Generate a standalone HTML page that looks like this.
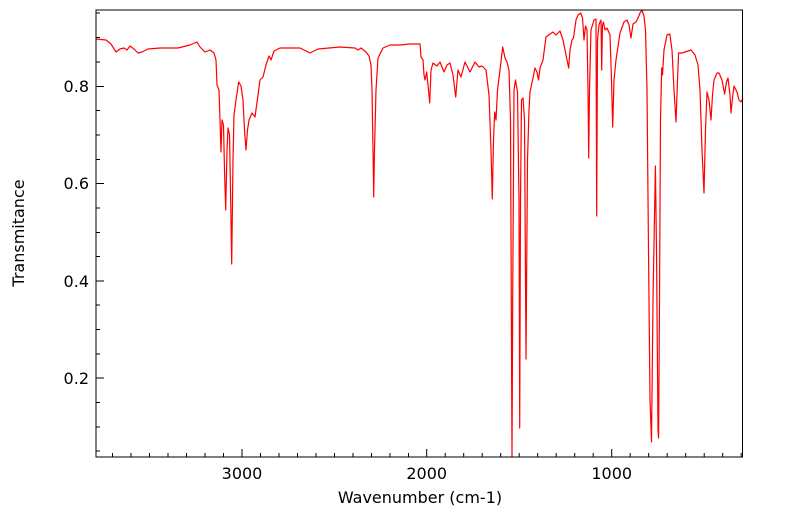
<!DOCTYPE html>
<html><head><meta charset="utf-8"><style>
html,body{margin:0;padding:0;background:#fff;}
svg{display:block;font-family:"DejaVu Sans","Liberation Sans",sans-serif;}
</style></head><body>
<svg width="799" height="516" viewBox="0 0 799 516" xmlns="http://www.w3.org/2000/svg">
<rect width="799" height="516" fill="#fff"/>
<g stroke="#000" stroke-width="1">
<!-- y major ticks -->
<path d="M96 86.5h8M96 183.5h8M96 281h8M96 378h8"/>
<!-- y minor -->
<path d="M96 13h4M96 37.5h4M96 62h4M96 110.5h4M96 135h4M96 159.5h4M96 208h4M96 232.5h4M96 256.5h4M96 305h4M96 329.5h4M96 354h4M96 402.5h4M96 427h4M96 451h4"/>
<!-- x major -->
<path d="M242 457v-8M426.7 457v-8M611.7 457v-8"/>
<!-- x minor -->
<path d="M112.5 457v-4M131 457v-4M149.5 457v-4M168 457v-4M186.5 457v-4M205 457v-4M223.5 457v-4M260.5 457v-4M279 457v-4M297.5 457v-4M316 457v-4M334.5 457v-4M353 457v-4M371.5 457v-4M390 457v-4M408.5 457v-4M445.2 457v-4M463.7 457v-4M482.2 457v-4M500.7 457v-4M519.2 457v-4M537.7 457v-4M556.2 457v-4M574.7 457v-4M593.2 457v-4M630.2 457v-4M648.7 457v-4M667.2 457v-4M685.7 457v-4M704.2 457v-4M722.7 457v-4M741.2 457v-4"/>
</g>
<polyline fill="none" stroke="#ff0000" stroke-width="1.2" stroke-linejoin="round" points="
96,39 106,40 111,44 116,52 120,49 124,48 127,50 130,46 134,49 138,53 142,52 148,49 160,48 178,48 190,45 197,42 200,47 205,52 210,50 214,53 216,60 217,85 219,90 220,120 221,152 222,120 223.5,125 224.5,170 225.7,210 227,150 228,128 229.5,135 230.5,190 231.7,264 233,160 234,115 236,100 238.7,82 241,86 243,100 244.5,130 246,150 247.5,130 249,120 252,113 255,117 258,95 260,80 263,77 266,65 269,56 271,60 274,51 280,48 300,48 310,53 318,49 340,47 355,48 358,50 361,48 366,52 369,56 371,65 372,90 373,150 373.7,197 374.5,150 376,90 378,58 383,48 390,45 400,45 410,44 420,44 421,57 423,60 424,75 425,80 426.7,72 428,85 429.7,103 431,70 433,63 437,66 440,62 444,72 447,65 450,63 453,75 455.7,97 458,70 461,77 465,62 470,72 475,62 479,67 482,66 486,70 489,95 491,150 492.3,199 493.5,140 494.7,112 496,120 497.5,90 500,70 502.7,47 505,58 507,62 509,70 510.5,120 511.3,300 512,457 512.7,300 514,90 515.5,80 517.5,92 519,200 519.7,428 520.5,200 521.5,100 523,98 524.5,120 526,359 527.5,160 529,110 530,92 533,78 535,68 537,72 538.5,80 540,68 543,60 546,37 550,34 553,32 556,35 560,31 563,40 566,55 568.7,68 570,50 572,40 573.5,38 576,20 578,15 580.7,13 582.5,18 584,40 585.5,26 587,30 588,90 588.7,158 589.5,90 591,30 594,20 596,19 596.7,216 597.5,40 599,25 600,22 601,20 601.7,70 602.5,25 603.5,22 605,30 607,28 610,35 611.5,80 612.7,127 614,80 616,60 620,33 624,22 627,20 629,25 631,38 633,24 636,22 638,18 640,13 642,10 644,16 645.5,30 647,90 648.5,250 650,400 651.5,442 653,300 655.4,166 656.5,250 658,430 658.6,438 659.5,300 660.5,120 661.7,68 662.5,75 664,50 667,35 669.8,34 672,50 674,90 676,122 677.5,80 678.6,53 682,53 691,50 695,55 698,65 700,90 702,150 704,193 705.5,130 707,92 709,100 711,120 712.5,95 714,80 717,73 719,73 722,80 724.6,94 726.5,82 728,78 730,95 731,113 732.5,98 734,86 737,92 739,100 741,102 743,98"/>
<rect x="96" y="10" width="646.5" height="447" fill="none" stroke="#000" stroke-width="1"/>
<g font-size="16" fill="#000" text-anchor="end">
<text x="89" y="92">0.8</text>
<text x="89" y="189">0.6</text>
<text x="89" y="287">0.4</text>
<text x="89" y="384">0.2</text>
</g>
<g font-size="16" fill="#000" text-anchor="middle">
<text x="242" y="479">3000</text>
<text x="426.7" y="479">2000</text>
<text x="611.7" y="479">1000</text>
<text x="420" y="503">Wavenumber (cm-1)</text>
<text transform="translate(24,233) rotate(-90)">Transmitance</text>
</g>
</svg>
</body></html>
